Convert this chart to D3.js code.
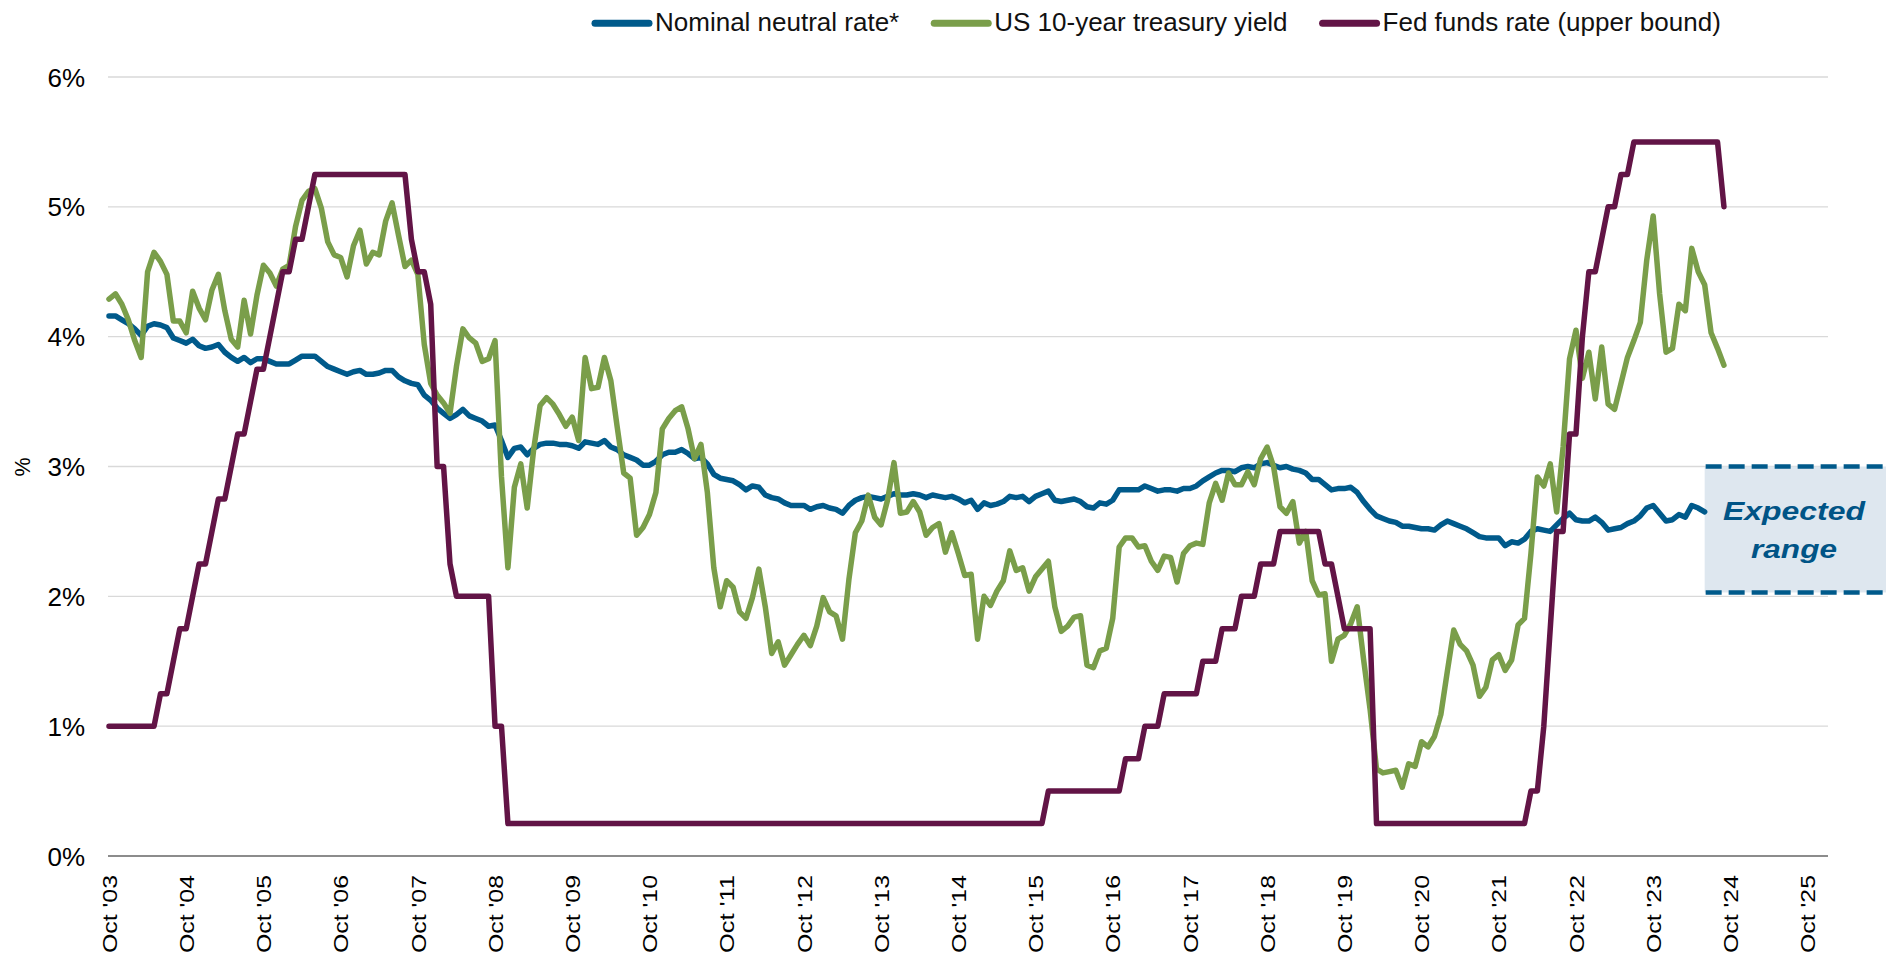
<!DOCTYPE html>
<html>
<head>
<meta charset="utf-8">
<script src="https://cdn.jsdelivr.net/npm/d3@7"></script>
<style>
  html, body { margin: 0; padding: 0; background: #ffffff; }
  svg { display: block; font-family: "Liberation Sans", Arial, Helvetica, sans-serif; }
</style>
</head>
<body>
<svg id="chart" width="1886" height="955"></svg>
<script>
// Monthly observations, first value = October 2003 (month index 0)
const seriesNames = ["Nominal neutral rate*", "US 10-year treasury yield", "Fed funds rate (upper bound)"];

// Month index of each October tick and its label
const xTickMonths = [0, 12, 24, 36, 48, 60, 72, 84, 96, 108, 120, 132, 144, 156, 168, 180, 192, 204, 216, 228, 240, 252, 264];
const xTickLabels = ["Oct '03", "Oct '04", "Oct '05", "Oct '06", "Oct '07", "Oct '08", "Oct '09", "Oct '10",
  "Oct '11", "Oct '12", "Oct '13", "Oct '14", "Oct '15", "Oct '16", "Oct '17", "Oct '18", "Oct '19",
  "Oct '20", "Oct '21", "Oct '22", "Oct '23", "Oct '24", "Oct '25"];

const yTickValues = [0, 1, 2, 3, 4, 5, 6];
const yTickLabels = ["0%", "1%", "2%", "3%", "4%", "5%", "6%"];

// Nominal neutral rate, Oct 2003 - Jun 2024
const neutralRate = [
  4.16, 4.16, 4.13,
  4.10, 4.06, 4.01, 4.08, 4.10, 4.09, 4.07, 3.99, 3.97, 3.95, 3.98, 3.93,
  3.91, 3.92, 3.94, 3.88, 3.84, 3.81, 3.84, 3.80, 3.83, 3.83, 3.81, 3.79,
  3.79, 3.79, 3.82, 3.85, 3.85, 3.85, 3.81, 3.77, 3.75, 3.73, 3.71, 3.73,
  3.74, 3.71, 3.71, 3.72, 3.74, 3.74, 3.69, 3.66, 3.64, 3.63, 3.55, 3.51,
  3.45, 3.41, 3.37, 3.40, 3.44, 3.39, 3.37, 3.35, 3.31, 3.32, 3.20, 3.07,
  3.14, 3.15, 3.09, 3.14, 3.17, 3.18, 3.18, 3.17, 3.17, 3.16, 3.14, 3.19,
  3.18, 3.17, 3.20, 3.15, 3.13, 3.09, 3.07, 3.05, 3.01, 3.01, 3.04, 3.09,
  3.11, 3.11, 3.13, 3.10, 3.06, 3.07, 3.02, 2.94, 2.91, 2.90, 2.89, 2.86,
  2.82, 2.85, 2.84, 2.78, 2.76, 2.75, 2.72, 2.70, 2.70, 2.70, 2.67, 2.69,
  2.70, 2.68, 2.67, 2.64, 2.70, 2.74, 2.76, 2.77, 2.76, 2.75, 2.77, 2.79,
  2.78, 2.78, 2.79, 2.78, 2.76, 2.78, 2.77, 2.76, 2.77, 2.75, 2.72, 2.74,
  2.67, 2.72, 2.70, 2.71, 2.73, 2.77, 2.76, 2.77, 2.73, 2.77, 2.79, 2.81,
  2.74, 2.73, 2.74, 2.75, 2.73, 2.69, 2.68, 2.72, 2.71, 2.74, 2.82, 2.82,
  2.82, 2.82, 2.85, 2.83, 2.81, 2.82, 2.82, 2.81, 2.83, 2.83, 2.85, 2.89,
  2.92, 2.95, 2.97, 2.97, 2.96, 2.99, 3.00, 2.99, 3.02, 3.03, 3.01, 2.99,
  3.00, 2.98, 2.97, 2.95, 2.90, 2.90, 2.86, 2.82, 2.83, 2.83, 2.84, 2.80,
  2.73, 2.67, 2.62, 2.60, 2.58, 2.57, 2.54, 2.54, 2.53, 2.52, 2.52, 2.51,
  2.55, 2.58, 2.56, 2.54, 2.52, 2.49, 2.46, 2.45, 2.45, 2.45, 2.39, 2.42,
  2.41, 2.44, 2.50, 2.52, 2.51, 2.50, 2.55, 2.60, 2.64, 2.59, 2.58, 2.58,
  2.61, 2.57, 2.51, 2.52, 2.53, 2.56, 2.58, 2.62, 2.68, 2.70, 2.64, 2.58,
  2.59, 2.63, 2.61, 2.70, 2.68, 2.65
];

// US 10-year treasury yield (month end), Oct 2003 - Sep 2024
const treasury10y = [
  4.29, 4.33, 4.25,
  4.13, 3.97, 3.84, 4.50, 4.65, 4.58, 4.48, 4.12, 4.12, 4.03, 4.35, 4.22,
  4.13, 4.36, 4.48, 4.20, 3.98, 3.92, 4.28, 4.02, 4.32, 4.55, 4.49, 4.39,
  4.52, 4.55, 4.85, 5.05, 5.12, 5.14, 4.99, 4.73, 4.63, 4.61, 4.46, 4.70,
  4.82, 4.56, 4.65, 4.63, 4.89, 5.03, 4.78, 4.54, 4.59, 4.48, 3.94, 3.64,
  3.55, 3.49, 3.41, 3.77, 4.06, 3.99, 3.95, 3.81, 3.83, 3.97, 2.92, 2.22,
  2.84, 3.02, 2.68, 3.13, 3.47, 3.53, 3.48, 3.40, 3.31, 3.38, 3.20, 3.84,
  3.60, 3.61, 3.84, 3.66, 3.30, 2.95, 2.91, 2.47, 2.53, 2.63, 2.80, 3.29,
  3.37, 3.43, 3.46, 3.29, 3.06, 3.17, 2.80, 2.22, 1.92, 2.12, 2.07, 1.88,
  1.83, 1.99, 2.21, 1.92, 1.56, 1.65, 1.47, 1.55, 1.63, 1.70, 1.62, 1.77,
  1.99, 1.88, 1.85, 1.67, 2.13, 2.49, 2.58, 2.78, 2.61, 2.55, 2.74, 3.03,
  2.64, 2.65, 2.73, 2.65, 2.47, 2.53, 2.56, 2.34, 2.49, 2.33, 2.16, 2.17,
  1.67, 2.00, 1.93, 2.04, 2.12, 2.35, 2.20, 2.22, 2.04, 2.15, 2.21, 2.27,
  1.92, 1.73, 1.77, 1.84, 1.85, 1.47, 1.45, 1.58, 1.60, 1.83, 2.38, 2.45,
  2.45, 2.38, 2.39, 2.27, 2.20, 2.31, 2.30, 2.11, 2.33, 2.39, 2.41, 2.40,
  2.72, 2.87, 2.74, 2.95, 2.86, 2.86, 2.96, 2.86, 3.06, 3.15, 3.00, 2.69,
  2.64, 2.73, 2.41, 2.50, 2.12, 2.01, 2.02, 1.50, 1.67, 1.70, 1.79, 1.92,
  1.51, 1.13, 0.67, 0.64, 0.65, 0.66, 0.53, 0.71, 0.69, 0.88, 0.84, 0.92,
  1.09, 1.42, 1.74, 1.63, 1.58, 1.47, 1.23, 1.30, 1.51, 1.55, 1.43, 1.51,
  1.78, 1.83, 2.33, 2.92, 2.85, 3.02, 2.65, 3.15, 3.83, 4.05, 3.68, 3.88,
  3.52, 3.92, 3.48, 3.44, 3.64, 3.84, 3.97, 4.11, 4.59, 4.93, 4.33, 3.88,
  3.91, 4.25, 4.20, 4.68, 4.50, 4.40, 4.03, 3.91, 3.78
];

// Fed funds target rate, upper bound (month end), Oct 2003 - Sep 2024
const fedFundsUpper = [
  1.00, 1.00, 1.00,
  1.00, 1.00, 1.00, 1.00, 1.00, 1.25, 1.25, 1.50, 1.75, 1.75, 2.00, 2.25,
  2.25, 2.50, 2.75, 2.75, 3.00, 3.25, 3.25, 3.50, 3.75, 3.75, 4.00, 4.25,
  4.50, 4.50, 4.75, 4.75, 5.00, 5.25, 5.25, 5.25, 5.25, 5.25, 5.25, 5.25,
  5.25, 5.25, 5.25, 5.25, 5.25, 5.25, 5.25, 5.25, 4.75, 4.50, 4.50, 4.25,
  3.00, 3.00, 2.25, 2.00, 2.00, 2.00, 2.00, 2.00, 2.00, 1.00, 1.00, 0.25,
  0.25, 0.25, 0.25, 0.25, 0.25, 0.25, 0.25, 0.25, 0.25, 0.25, 0.25, 0.25,
  0.25, 0.25, 0.25, 0.25, 0.25, 0.25, 0.25, 0.25, 0.25, 0.25, 0.25, 0.25,
  0.25, 0.25, 0.25, 0.25, 0.25, 0.25, 0.25, 0.25, 0.25, 0.25, 0.25, 0.25,
  0.25, 0.25, 0.25, 0.25, 0.25, 0.25, 0.25, 0.25, 0.25, 0.25, 0.25, 0.25,
  0.25, 0.25, 0.25, 0.25, 0.25, 0.25, 0.25, 0.25, 0.25, 0.25, 0.25, 0.25,
  0.25, 0.25, 0.25, 0.25, 0.25, 0.25, 0.25, 0.25, 0.25, 0.25, 0.25, 0.25,
  0.25, 0.25, 0.25, 0.25, 0.25, 0.25, 0.25, 0.25, 0.25, 0.25, 0.25, 0.50,
  0.50, 0.50, 0.50, 0.50, 0.50, 0.50, 0.50, 0.50, 0.50, 0.50, 0.50, 0.75,
  0.75, 0.75, 1.00, 1.00, 1.00, 1.25, 1.25, 1.25, 1.25, 1.25, 1.25, 1.50,
  1.50, 1.50, 1.75, 1.75, 1.75, 2.00, 2.00, 2.00, 2.25, 2.25, 2.25, 2.50,
  2.50, 2.50, 2.50, 2.50, 2.50, 2.50, 2.25, 2.25, 2.00, 1.75, 1.75, 1.75,
  1.75, 1.75, 0.25, 0.25, 0.25, 0.25, 0.25, 0.25, 0.25, 0.25, 0.25, 0.25,
  0.25, 0.25, 0.25, 0.25, 0.25, 0.25, 0.25, 0.25, 0.25, 0.25, 0.25, 0.25,
  0.25, 0.25, 0.50, 0.50, 1.00, 1.75, 2.50, 2.50, 3.25, 3.25, 4.00, 4.50,
  4.50, 4.75, 5.00, 5.00, 5.25, 5.25, 5.50, 5.50, 5.50, 5.50, 5.50, 5.50,
  5.50, 5.50, 5.50, 5.50, 5.50, 5.50, 5.50, 5.50, 5.00
];

// Expected range for the neutral rate (%)
const expectedRange = [2.03, 3.00];
const expectedLabel = ["Expected", "range"];

// ---- drawing ----
const svg = d3.select("#chart");
const plot = { left: 108, right: 1828, top: 77, bottom: 856 };
const colors = ["#005A8B", "#7A9E4A", "#621446"];
const seriesData = [neutralRate, treasury10y, fedFundsUpper];

const x = d3.scaleLinear().domain([0, 264]).range([109, 1807.6]);
const y = d3.scaleLinear().domain([0, 6]).range([plot.bottom, plot.top]);

// horizontal gridlines
svg.append("g")
  .selectAll("line")
  .data(yTickValues.filter(v => v > 0))
  .join("line")
  .attr("x1", plot.left).attr("x2", plot.right)
  .attr("y1", d => y(d)).attr("y2", d => y(d))
  .attr("stroke", "#D9D9D9").attr("stroke-width", 1.3);

// expected range band, starting where the neutral-rate series ends
const bandLeft = x(neutralRate.length - 1);
const band = svg.append("g");
band.append("rect")
  .attr("x", bandLeft).attr("width", 1886 - bandLeft)
  .attr("y", y(expectedRange[1])).attr("height", y(expectedRange[0]) - y(expectedRange[1]))
  .attr("fill", "#DEE7EF");
band.selectAll("line")
  .data(expectedRange)
  .join("line")
  .attr("x1", bandLeft + 1).attr("x2", 1886)
  .attr("y1", d => y(d)).attr("y2", d => y(d))
  .attr("stroke", "#005A8B").attr("stroke-width", 4.5)
  .attr("stroke-dasharray", "16,7");

// y axis labels
const yAxis = svg.append("g").attr("transform", `translate(${plot.left},0)`)
  .call(d3.axisLeft(y).tickValues(yTickValues).tickSize(0).tickPadding(23)
    .tickFormat((d, i) => yTickLabels[i]));
yAxis.select(".domain").remove();
yAxis.selectAll("text")
  .attr("font-family", "'Liberation Sans', Arial, sans-serif")
  .attr("font-size", 26).attr("fill", "#000").attr("dy", "0.35em");

// y axis title
svg.append("text")
  .attr("transform", "translate(22.6,467) rotate(-90)")
  .attr("text-anchor", "middle").attr("dy", "0.35em")
  .attr("font-size", 21.5).attr("fill", "#000")
  .text("%");

// x axis line
svg.append("line")
  .attr("x1", plot.left).attr("x2", plot.right)
  .attr("y1", y(0)).attr("y2", y(0))
  .attr("stroke", "#8C8C8C").attr("stroke-width", 2);

// x axis labels, rotated to read bottom-up
const xAxis = svg.append("g").attr("transform", `translate(0,${y(0)})`)
  .call(d3.axisBottom(x).tickValues(xTickMonths).tickSize(0)
    .tickFormat((d, i) => xTickLabels[i]));
xAxis.select(".domain").remove();
xAxis.selectAll("text")
  .attr("font-family", "'Liberation Sans', Arial, sans-serif")
  .attr("font-size", 20.5).attr("fill", "#000")
  .attr("text-anchor", "end")
  .attr("x", -19).attr("y", 0).attr("dy", "0.35em")
  .attr("transform", "rotate(-90)")
  .attr("textLength", 78).attr("lengthAdjust", "spacingAndGlyphs");

// series lines
const line = d3.line().x((d, i) => x(i)).y(d => y(d));
svg.append("g")
  .selectAll("path")
  .data(seriesData)
  .join("path")
  .attr("d", d => line(d))
  .attr("fill", "none")
  .attr("stroke", (d, i) => colors[i])
  .attr("stroke-width", 5.5)
  .attr("stroke-linejoin", "round")
  .attr("stroke-linecap", "round");

// expected range label
band.selectAll("text")
  .data(expectedLabel)
  .join("text")
  .attr("x", 1794).attr("y", (d, i) => 520 + i * 38)
  .attr("text-anchor", "middle")
  .attr("font-size", 26.5).attr("font-weight", "bold").attr("font-style", "italic")
  .attr("fill", "#005486")
  .attr("textLength", (d, i) => i === 0 ? 142 : 86)
  .attr("lengthAdjust", "spacingAndGlyphs")
  .text(d => d);

// legend
const legend = svg.append("g");
let lx = 592;
seriesNames.forEach((name, i) => {
  legend.append("line")
    .attr("x1", lx + 3).attr("x2", lx + 57)
    .attr("y1", 23.3).attr("y2", 23.3)
    .attr("stroke", colors[i]).attr("stroke-width", 7)
    .attr("stroke-linecap", "round");
  const t = legend.append("text")
    .attr("x", lx + 63).attr("y", 30.7)
    .attr("font-size", 26).attr("fill", "#111")
    .text(name);
  lx = lx + 63 + t.node().getComputedTextLength() + 32;
});
</script>
</body>
</html>
